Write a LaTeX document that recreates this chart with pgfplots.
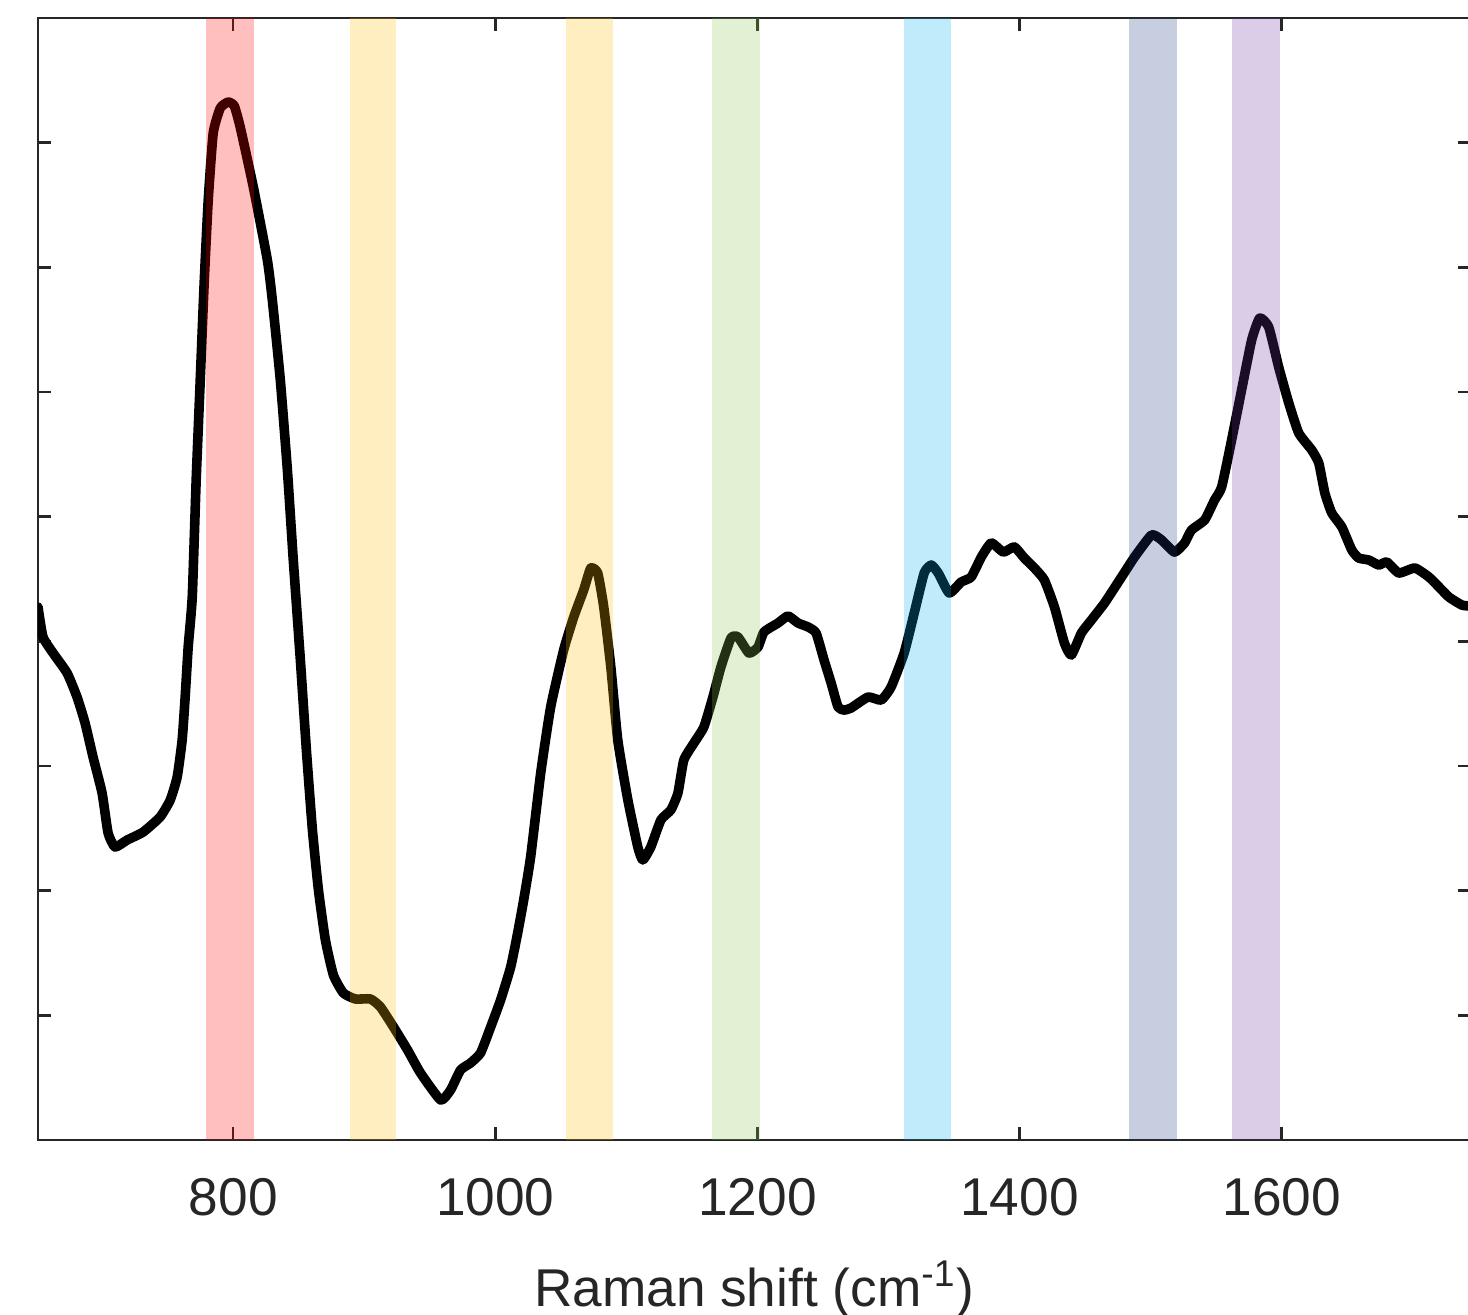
\documentclass[border=0pt]{standalone}
\usepackage{pgfplots}
\pgfplotsset{compat=1.18}
\usepackage{fontspec}
\setmainfont{Liberation Sans}
\usetikzlibrary{calc}

\definecolor{axgray}{RGB}{38,38,38}
\definecolor{bandred}{RGB}{255,0,0}
\definecolor{bandyellow}{RGB}{251,187,3}
\definecolor{bandgreen}{RGB}{139,195,83}
\definecolor{bandcyan}{RGB}{0,176,240}
\definecolor{bandnavy}{RGB}{31,59,127}
\definecolor{bandpurple}{RGB}{111,51,163}

\begin{document}
\fontsize{13.3pt}{16pt}\selectfont
\begin{tikzpicture}
\begin{axis}[
    scale only axis,
    width=358.1pt, height=280.5pt,
    xmin=651, xmax=1744,
    ymin=0, ymax=9,
    xtick={800,1000,1200,1400,1600},
    ytick={0,1,2,3,4,5,6,7,8,9},
    yticklabels={},
    tick align=inside,
    major tick length=3.2pt,
    axis line style={axgray, line width=0.6pt},
    tick style={axgray, line width=0.6pt},
    xticklabel style={text=axgray, yshift=-5pt,
        /pgf/number format/1000 sep={},
        /pgf/number format/assume math mode=true},
    xlabel={Raman shift (cm\textsuperscript{-1})},
    xlabel style={text=axgray, yshift=-2pt},
]
\addplot[black, line width=2.4pt, line join=round, line cap=round, smooth, tension=0.3] coordinates {
(651.0,4.275) (654.8,4.035) (662.5,3.906) (673.2,3.746) (680.8,3.553)
(686.9,3.345) (693.0,3.072) (699.9,2.783) (704.5,2.462) (709.8,2.350)
(719.0,2.406) (731.2,2.470) (744.2,2.591) (751.9,2.727) (757.2,2.912)
(761.0,3.208) (763.3,3.553) (765.6,3.954) (768.7,4.355) (771.7,5.294)
(774.8,6.096) (777.8,6.874) (780.9,7.540) (784.7,8.077) (790.1,8.278)
(796.2,8.326) (800.8,8.294) (805.3,8.125) (815.3,7.644) (826.0,7.059)
(829.8,6.738) (835.9,6.096) (841.3,5.374) (845.8,4.652) (851.2,3.850)
(855.8,3.128) (860.4,2.487) (865.0,2.005) (870.3,1.604) (876.4,1.323)
(884.0,1.179) (893.2,1.131) (904.7,1.131) (912.3,1.067) (922.3,0.906)
(933.0,0.722) (942.9,0.537) (958.2,0.321) (965.8,0.401) (973.4,0.561)
(981.1,0.618) (988.7,0.698) (996.4,0.906) (1004.0,1.123) (1011.7,1.388)
(1017.0,1.660) (1021.6,1.925) (1026.9,2.270) (1034.6,2.944) (1042.2,3.473)
(1052.1,3.930) (1059.8,4.195) (1067.4,4.412) (1072.8,4.588) (1078.1,4.548)
(1082.7,4.275) (1088.1,3.794) (1093.4,3.208) (1101.1,2.727) (1108.7,2.350)
(1112.5,2.246) (1118.6,2.350) (1126.3,2.567) (1133.9,2.647) (1139.3,2.783)
(1143.8,3.048) (1151.5,3.184) (1159.1,3.313) (1166.0,3.553) (1172.1,3.794)
(1179.8,4.027) (1185.1,4.035) (1193.5,3.906) (1200.4,3.954) (1205.0,4.075)
(1215.7,4.147) (1223.3,4.203) (1230.9,4.147) (1238.6,4.115) (1244.7,4.067)
(1250.8,3.850) (1256.2,3.666) (1261.5,3.473) (1266.1,3.449) (1271.4,3.465)
(1284.4,3.553) (1294.4,3.529) (1302.0,3.634) (1311.9,3.906) (1319.6,4.227)
(1327.2,4.548) (1332.6,4.612) (1337.9,4.548) (1346.3,4.388) (1355.5,4.476)
(1363.1,4.516) (1370.8,4.676) (1378.4,4.789) (1387.6,4.716) (1396.0,4.757)
(1403.6,4.668) (1411.3,4.588) (1418.9,4.492) (1426.6,4.275) (1434.2,3.986)
(1439.5,3.890) (1447.2,4.067) (1454.8,4.171) (1464.8,4.307) (1477.8,4.516)
(1487.7,4.676) (1500.7,4.853) (1508.3,4.813) (1518.2,4.716) (1525.9,4.789)
(1531.2,4.893) (1541.2,4.973) (1548.8,5.134) (1554.2,5.238) (1561.8,5.615)
(1569.4,6.016) (1577.1,6.417) (1583.2,6.593) (1590.1,6.521) (1597.7,6.200)
(1605.4,5.912) (1613.0,5.671) (1622.9,5.535) (1628.3,5.430) (1632.9,5.190)
(1638.2,5.029) (1645.9,4.917) (1653.5,4.732) (1658.8,4.668) (1666.5,4.652)
(1674.1,4.612) (1680.2,4.636) (1689.4,4.548) (1701.6,4.588) (1712.3,4.516)
(1720.0,4.436) (1727.6,4.355) (1737.5,4.291) (1744.0,4.283)
};
% highlighted bands, drawn over the spectrum
\addplot[draw=none, fill=bandred, fill opacity=0.25] coordinates {(779.4,0) (816.0,0) (816.0,9) (779.4,9)} -- cycle;
\addplot[draw=none, fill=bandyellow, fill opacity=0.25] coordinates {(889.4,0) (924.5,0) (924.5,9) (889.4,9)} -- cycle;
\addplot[draw=none, fill=bandyellow, fill opacity=0.25] coordinates {(1053.9,0) (1090.1,0) (1090.1,9) (1053.9,9)} -- cycle;
\addplot[draw=none, fill=bandgreen, fill opacity=0.25] coordinates {(1165.2,0) (1201.6,0) (1201.6,9) (1165.2,9)} -- cycle;
\addplot[draw=none, fill=bandcyan, fill opacity=0.25] coordinates {(1311.7,0) (1347.8,0) (1347.8,9) (1311.7,9)} -- cycle;
\addplot[draw=none, fill=bandnavy, fill opacity=0.25] coordinates {(1483.3,0) (1519.8,0) (1519.8,9) (1483.3,9)} -- cycle;
\addplot[draw=none, fill=bandpurple, fill opacity=0.25] coordinates {(1562.3,0) (1599.0,0) (1599.0,9) (1562.3,9)} -- cycle;
\end{axis}
\pgfresetboundingbox
\useasboundingbox ($(current axis.south west)+(-9.5pt,-43.75pt)$) rectangle ($(current axis.north east)+(-0.6pt,4.5pt)$);
\end{tikzpicture}
\end{document}
